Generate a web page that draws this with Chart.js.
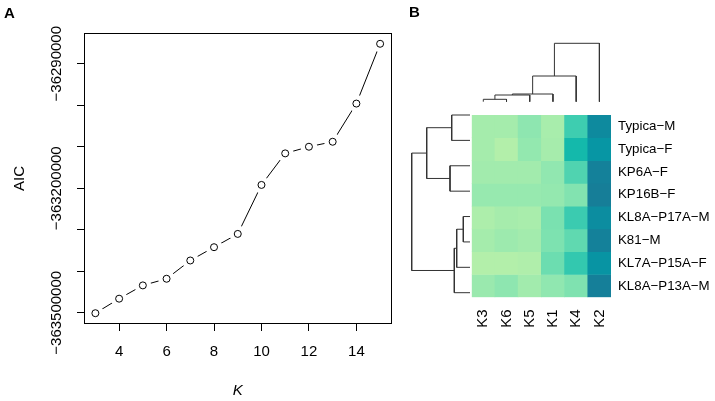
<!DOCTYPE html>
<html>
<head>
<meta charset="utf-8">
<script src="https://cdn.jsdelivr.net/npm/chart.js@4/dist/chart.umd.min.js"></script>
<style>
  html, body { margin: 0; padding: 0; background: #fff; }
  #wrap { position: relative; width: 715px; height: 401px; overflow: hidden; font-family: "Liberation Sans", Arial, sans-serif; }
  canvas { position: absolute; }
  .panel { position: absolute; font-weight: bold; font-size: 15px; line-height: 15px; }
</style>
</head>
<body>
<div id="wrap">
  <canvas id="aic" width="400" height="401" style="left:0;top:0"></canvas>
  <canvas id="colDendro" width="150" height="70" style="left:466px;top:36px"></canvas>
  <canvas id="rowDendro" width="70" height="192" style="left:405px;top:108px"></canvas>
  <canvas id="heat" width="255" height="250" style="left:460px;top:100px"></canvas>
  <div class="panel" style="left:4px;top:5px">A</div>
  <div class="panel" style="left:409px;top:4px">B</div>
</div>
<script>
// ---------- panel A : AIC vs K ----------
const kValues = [3, 4, 5, 6, 7, 8, 9, 10, 11, 12, 13, 14, 15];
const aicValues = [-363501000, -363466000, -363434000, -363418000, -363374000, -363342000,
  -363310000, -363192000, -363116000, -363100000, -363088000, -362996000, -362852000];
const xTicks = [4, 6, 8, 10, 12, 14];
const yTicks = [-362900000, -363000000, -363100000, -363200000, -363300000, -363400000, -363500000];
const yTickLabels = ["\u221236290000", "", "", "\u2212363200000", "", "", "\u2212363500000"];

// ---------- panel B : heatmap ----------
const colLabels = ["K3", "K6", "K5", "K1", "K4", "K2"];
const rowLabels = ["Typica\u2212M", "Typica\u2212F", "KP6A\u2212F", "KP16B\u2212F",
  "KL8A\u2212P17A\u2212M", "K81\u2212M", "KL7A\u2212P15A\u2212F", "KL8A\u2212P13A\u2212M"];
const heatValues = [
  [0.16, 0.16, 0.31, 0.13, 0.60, 0.92],
  [0.16, 0.03, 0.28, 0.15, 0.72, 0.85],
  [0.18, 0.18, 0.18, 0.29, 0.54, 0.97],
  [0.25, 0.25, 0.25, 0.27, 0.36, 0.99],
  [0.08, 0.15, 0.12, 0.39, 0.61, 0.90],
  [0.16, 0.21, 0.17, 0.38, 0.49, 0.97],
  [0.03, 0.03, 0.06, 0.45, 0.63, 0.86],
  [0.23, 0.31, 0.18, 0.30, 0.37, 0.98]
];
const paletteStops = [0, 0.15, 0.30, 0.45, 0.60, 0.72, 0.85, 1];
const paletteColors = ["#b6f0aa", "#a6ecac", "#90e7b0", "#6cddb0", "#3ecdb0", "#14b9ab", "#0796a4", "#177c97"];

// dendrograms (hclust style: negative = leaf, positive = earlier merge)
const colMerge = [[-1, -2], [1, -3], [2, -4], [3, -5], [4, -6]];
const colHeight = [2.4, 6.7, 7.7, 25.7, 58.4];
const rowMerge = [[-1, -2], [-3, -4], [1, 2], [-5, -6], [4, -7], [5, -8], [3, 6]];
const rowHeight = [18.3, 20, 43.3, 6.7, 13.3, 15.7, 58.3];

Chart.defaults.font.family = '"Liberation Sans", Arial, sans-serif';
Chart.defaults.color = "#000";
Chart.defaults.animation = false;
Chart.defaults.plugins.legend.display = false;
Chart.defaults.plugins.tooltip.enabled = false;

function hexToRgb(h) {
  return [parseInt(h.slice(1, 3), 16), parseInt(h.slice(3, 5), 16), parseInt(h.slice(5, 7), 16)];
}
function valueToColor(v) {
  let i = 0;
  while (i < paletteStops.length - 2 && v > paletteStops[i + 1]) i++;
  const t = (v - paletteStops[i]) / (paletteStops[i + 1] - paletteStops[i]);
  const a = hexToRgb(paletteColors[i]), b = hexToRgb(paletteColors[i + 1]);
  const c = a.map((x, j) => Math.round(x + (b[j] - x) * t));
  return `rgb(${c[0]},${c[1]},${c[2]})`;
}

// segments of a dendrogram; pos(leaf) gives the leaf position
function dendroSegments(merge, height, leafPos) {
  const nodePos = [], segs = [];
  const info = ref => ref < 0 ? { p: leafPos(-ref - 1), h: 0 } : { p: nodePos[ref - 1], h: height[ref - 1] };
  merge.forEach((m, k) => {
    const a = info(m[0]), b = info(m[1]);
    nodePos[k] = (a.p + b.p) / 2;
    segs.push({ a, b, h: height[k] });
  });
  return segs;
}

// ---- panel A chart ----
const boxPlugin = {
  id: "box",
  afterDraw(chart) {
    const { ctx, chartArea: ca } = chart;
    ctx.save();
    ctx.strokeStyle = "#000";
    ctx.lineWidth = 1;
    ctx.strokeRect(Math.round(ca.left) + 0.5, Math.round(ca.top) + 0.5,
      Math.round(ca.right - ca.left) - 1, Math.round(ca.bottom - ca.top) - 1);
    // rotated y tick labels, R style
    const s = chart.scales.y;
    ctx.font = '15px "Liberation Sans", Arial, sans-serif';
    ctx.fillStyle = "#000";
    ctx.textAlign = "center";
    ctx.textBaseline = "middle";
    yTicks.forEach((v, i) => {
      if (!yTickLabels[i]) return;
      ctx.save();
      ctx.translate(57, s.getPixelForValue(v));
      ctx.rotate(-Math.PI / 2);
      ctx.fillText(yTickLabels[i], 0, 0);
      ctx.restore();
    });
    ctx.restore();
  }
};

const aicPoints = kValues.map((k, i) => ({ x: k, y: aicValues[i] }));
new Chart(document.getElementById("aic"), {
  type: "scatter",
  data: {
    datasets: [
      { data: aicPoints, showLine: false, pointRadius: 3.5, pointBorderWidth: 1,
        pointBorderColor: "#000", pointBackgroundColor: "rgba(0,0,0,0)" },
      { data: aicPoints, showLine: false, pointRadius: 8.5, pointBorderWidth: 0,
        pointBackgroundColor: "#fff", pointBorderColor: "#fff" },
      { data: aicPoints, showLine: true, pointRadius: 0, borderColor: "#000", borderWidth: 1 }
    ]
  },
  options: {
    responsive: false,
    layout: { padding: { top: 33, right: 5, left: 0, bottom: 0 } },
    scales: {
      x: {
        type: "linear", min: 2.52, max: 15.48,
        afterBuildTicks: s => { s.ticks = xTicks.map(v => ({ value: v })); },
        afterFit: s => { s.height = 77; },
        ticks: { font: { size: 15 }, padding: 12, maxRotation: 0 },
        grid: { drawOnChartArea: false, drawTicks: true, tickLength: 7, tickColor: "#000" },
        border: { display: false },
        title: { display: true, text: "K", font: { size: 15, style: "italic" }, padding: { top: 0, bottom: 1 } }
      },
      y: {
        type: "linear", min: -363527000, max: -362826000,
        afterBuildTicks: s => { s.ticks = yTicks.map(v => ({ value: v })); },
        afterFit: s => { s.width = 84; },
        ticks: { display: false },
        grid: { drawOnChartArea: false, drawTicks: true, tickLength: 7, tickColor: "#000" },
        border: { display: false },
        title: { display: true, text: "AIC", font: { size: 15 }, padding: { top: 11, bottom: 0 } }
      }
    }
  },
  plugins: [boxPlugin]
});

// ---- column dendrogram ----
const colSegs = dendroSegments(colMerge, colHeight, i => i + 0.5);
new Chart(document.getElementById("colDendro"), {
  type: "scatter",
  data: {
    datasets: colSegs.map(s => ({
      data: [{ x: s.a.p, y: s.a.h }, { x: s.a.p, y: s.h }, { x: s.b.p, y: s.h }, { x: s.b.p, y: s.b.h }],
      showLine: true, pointRadius: 0, borderColor: "#333", borderWidth: 1, clip: false
    }))
  },
  options: {
    responsive: false,
    layout: { padding: { left: 5.7, right: 5, top: 7.3, bottom: 4.3 } },
    scales: {
      x: { type: "linear", min: 0, max: colLabels.length, display: false },
      y: { type: "linear", min: 0, max: colHeight[colHeight.length - 1], display: false }
    }
  }
});

// ---- row dendrogram ----
const rowSegs = dendroSegments(rowMerge, rowHeight, i => i);
new Chart(document.getElementById("rowDendro"), {
  type: "scatter",
  data: {
    datasets: rowSegs.map(s => ({
      data: [{ x: s.a.h, y: s.a.p }, { x: s.h, y: s.a.p }, { x: s.h, y: s.b.p }, { x: s.b.h, y: s.b.p }],
      showLine: true, pointRadius: 0, borderColor: "#333", borderWidth: 1, clip: false
    }))
  },
  options: {
    responsive: false,
    layout: { padding: { left: 6.7, right: 5, top: 7, bottom: 7.3 } },
    scales: {
      x: { type: "linear", min: 0, max: rowHeight[rowHeight.length - 1], reverse: true, display: false },
      y: { type: "linear", min: 0, max: rowLabels.length - 1, reverse: true, display: false }
    }
  }
});

// ---- heatmap ----
new Chart(document.getElementById("heat"), {
  type: "bar",
  data: {
    labels: colLabels,
    datasets: rowLabels.map((r, i) => ({
      label: r,
      data: colLabels.map(() => 1),
      backgroundColor: heatValues[i].map(valueToColor),
      borderWidth: 0,
      barPercentage: 1,
      categoryPercentage: 1
    }))
  },
  options: {
    responsive: false,
    layout: { padding: { left: 11.7, top: 11, right: 0, bottom: 0 } },
    scales: {
      x: {
        stacked: true,
        afterFit: s => { s.height = 52.7; },
        ticks: { font: { size: 15 }, minRotation: 90, maxRotation: 90, autoSkip: false, padding: 12 },
        grid: { display: false, drawTicks: false },
        border: { display: false }
      },
      y: {
        stacked: true, position: "right", min: 0, max: rowLabels.length, reverse: true,
        afterBuildTicks: s => { s.ticks = rowLabels.map((_, i) => ({ value: i + 0.5 })); },
        afterFit: s => { s.width = 104; },
        ticks: { font: { size: 13.3 }, padding: 7, callback: (v, i) => rowLabels[i] },
        grid: { display: false, drawTicks: false },
        border: { display: false }
      }
    }
  }
});
</script>
</body>
</html>
